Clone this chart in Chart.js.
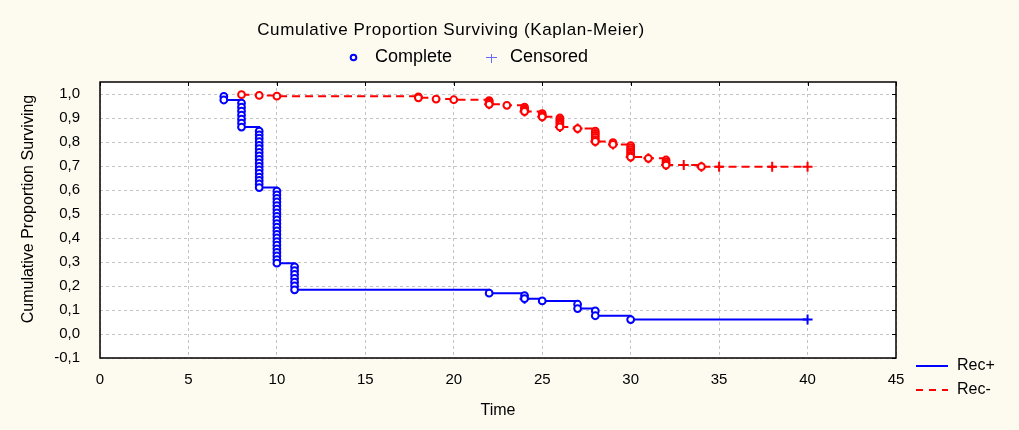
<!DOCTYPE html>
<html>
<head>
<meta charset="utf-8">
<title>Cumulative Proportion Surviving (Kaplan-Meier)</title>
<script src="https://cdn.jsdelivr.net/npm/chart.js@4.4.1/dist/chart.umd.min.js"></script>
<style>
    html, body { margin: 0; padding: 0; background: #fdfaf0; }
    #km { display: block; }
</style>
</head>
<body>
<canvas id="km" width="1019" height="430"></canvas>
<script>
'use strict'

var chartTitle = 'Cumulative Proportion Surviving (Kaplan-Meier)';
var yTitle = 'Cumulative Proportion Surviving';
var xTicks = [0, 5, 10, 15, 20, 25, 30, 35, 40, 45];
var yTicks = [-0.1, 0, 0.1, 0.2, 0.3, 0.4, 0.5, 0.6, 0.7, 0.8, 0.9, 1.0];

/* Rec+ : complete (event) points */
var recPlusTimes = [7, 7,
    8, 8, 8, 8, 8, 8, 8,
    9, 9, 9, 9, 9, 9, 9, 9, 9, 9, 9, 9, 9, 9, 9, 9, 9,
    10, 10, 10, 10, 10, 10, 10, 10, 10, 10, 10, 10, 10, 10, 10, 10, 10, 10, 10, 10, 10,
    11, 11, 11, 11, 11, 11, 11,
    22, 24, 24, 25, 27, 27, 28, 28, 30];
var recPlusSurv = [0.990, 0.975,
    0.962, 0.945, 0.929, 0.912, 0.895, 0.879, 0.862,
    0.845, 0.830, 0.816, 0.801, 0.786, 0.772, 0.757, 0.742, 0.728, 0.713, 0.698, 0.684, 0.669, 0.654, 0.640, 0.625, 0.610,
    0.595, 0.580, 0.565, 0.550, 0.535, 0.520, 0.505, 0.490, 0.475, 0.460, 0.445, 0.430, 0.415, 0.400, 0.385, 0.370, 0.355, 0.340, 0.325, 0.310, 0.295,
    0.280, 0.264, 0.248, 0.232, 0.216, 0.200, 0.184,
    0.170, 0.160, 0.147, 0.138, 0.124, 0.106, 0.096, 0.076, 0.060];
/* Rec+ : censored points */
var recPlusCensTimes = [24, 40];
var recPlusCensSurv = [0.147, 0.060];

/* Rec- : complete (event) points */
var recMinusTimes = [8, 9, 10, 18, 18, 19, 20, 22, 22, 22, 22, 23,
    24, 24, 24, 24, 25, 25, 25, 26, 26, 26, 26, 26, 26, 27,
    28, 28, 28, 28, 28, 28, 29, 29, 30, 30, 30, 30, 30, 30, 30,
    31, 32, 32, 32, 32, 34];
var recMinusSurv = [0.997, 0.994, 0.991, 0.988, 0.984, 0.979, 0.976, 0.972, 0.967, 0.962, 0.957, 0.953,
    0.945, 0.939, 0.933, 0.927, 0.918, 0.911, 0.905, 0.900, 0.893, 0.886, 0.879, 0.871, 0.863, 0.856,
    0.845, 0.836, 0.828, 0.819, 0.810, 0.802, 0.797, 0.790, 0.785, 0.776, 0.768, 0.760, 0.752, 0.744, 0.737,
    0.732, 0.725, 0.717, 0.710, 0.704, 0.697];
/* Rec- : censored points */
var recMinusCensTimes = [22, 24, 25, 26, 27, 28, 29, 30, 31, 32, 33, 34, 35, 38, 40];
var recMinusCensSurv = [0.957, 0.927, 0.905, 0.863, 0.856, 0.802, 0.790, 0.737, 0.732, 0.704, 0.704, 0.697, 0.697, 0.697, 0.697];

var blue = '#0000ff';
var red = '#ff0000';
var fontFamily = "'Liberation Sans', Arial, sans-serif";

function toPoints(t, s) {
    return t.map(function (x, i) { return { x: x, y: s[i] }; });
}
/* step path through every event / censoring point, in time order */
function stepPath(events, censored) {
    return events.concat(censored).sort(function (a, b) {
        return a.x - b.x || b.y - a.y;
    });
}

var recPlusEvents = toPoints(recPlusTimes, recPlusSurv);
var recPlusCens = toPoints(recPlusCensTimes, recPlusCensSurv);
var recMinusEvents = toPoints(recMinusTimes, recMinusSurv);
var recMinusCens = toPoints(recMinusCensTimes, recMinusCensSurv);

function fmt(v) {
    if (Math.abs(v) < 1e-9) v = 0;
    return v.toFixed(1).replace('.', ',');
}

/* cream page, white plot area */
var backdrop = {
    id: 'backdrop',
    beforeDraw: function (chart) {
        var ctx = chart.ctx, a = chart.chartArea;
        ctx.save();
        ctx.fillStyle = '#fdfaf0';
        ctx.fillRect(0, 0, chart.width, chart.height);
        ctx.fillStyle = '#ffffff';
        ctx.fillRect(a.left, a.top, a.right - a.left, a.bottom - a.top);
        ctx.restore();
    }
};

/* frame, inner ticks, titles, marker legend and group legend */
var decorations = {
    id: 'decorations',
    afterDraw: function (chart) {
        var ctx = chart.ctx, a = chart.chartArea;
        var xs = chart.scales.x, ys = chart.scales.y;
        ctx.save();
        ctx.strokeStyle = '#000000';
        ctx.lineWidth = 1.5;
        ctx.strokeRect(a.left, a.top, a.right - a.left, a.bottom - a.top);
        ctx.lineWidth = 1;
        ctx.beginPath();
        xTicks.forEach(function (v) {
            var px = Math.round(xs.getPixelForValue(v)) + 0.5;
            ctx.moveTo(px, a.top);
            ctx.lineTo(px, a.top + 4);
        });
        yTicks.forEach(function (v) {
            var py = Math.round(ys.getPixelForValue(v)) + 0.5;
            ctx.moveTo(a.right, py);
            ctx.lineTo(a.right - 4, py);
        });
        ctx.stroke();

        // title
        ctx.fillStyle = '#000000';
        ctx.textBaseline = 'middle';
        ctx.textAlign = 'center';
        ctx.font = '17px ' + fontFamily;
        ctx.letterSpacing = '0.6px';
        ctx.fillText(chartTitle, 451, 30);
        ctx.letterSpacing = '0px';

        // y axis title
        ctx.save();
        ctx.translate(29, 209);
        ctx.rotate(-Math.PI / 2);
        ctx.font = '16px ' + fontFamily;
        ctx.fillText(yTitle, 0, 0);
        ctx.restore();

        // marker legend
        ctx.textAlign = 'left';
        ctx.font = '18px ' + fontFamily;
        ctx.strokeStyle = blue;
        ctx.lineWidth = 2;
        ctx.beginPath();
        ctx.arc(353.5, 57.5, 2.8, 0, Math.PI * 2);
        ctx.stroke();
        ctx.fillText('Complete', 375, 57);

        ctx.strokeStyle = '#6a6aff';
        ctx.lineWidth = 1;
        ctx.beginPath();
        ctx.moveTo(486, 57.5);
        ctx.lineTo(497, 57.5);
        ctx.moveTo(491.5, 54);
        ctx.lineTo(491.5, 63);
        ctx.stroke();
        ctx.fillText('Censored', 510, 57);

        // group legend
        ctx.font = '16px ' + fontFamily;
        ctx.lineWidth = 2;
        ctx.strokeStyle = blue;
        ctx.beginPath();
        ctx.moveTo(916, 366);
        ctx.lineTo(948, 366);
        ctx.stroke();
        ctx.fillText('Rec+', 957, 366);

        ctx.strokeStyle = red;
        ctx.setLineDash([7, 6]);
        ctx.beginPath();
        ctx.moveTo(916, 390);
        ctx.lineTo(948, 390);
        ctx.stroke();
        ctx.setLineDash([]);
        ctx.fillText('Rec-', 957, 390);
        ctx.restore();
    }
};

var ctx = document.getElementById('km').getContext('2d');
var kmChart = new Chart(ctx, {
    type: 'scatter',
    data: {
        datasets: [{
            label: 'Rec+ complete',
            data: recPlusEvents,
            pointStyle: 'circle',
            radius: 3.4,
            borderWidth: 2,
            borderColor: blue,
            backgroundColor: '#ffffff',
            order: 1
        }, {
            label: 'Rec+ censored',
            data: recPlusCens,
            pointStyle: 'cross',
            radius: 5,
            borderWidth: 2,
            borderColor: blue,
            order: 1
        }, {
            label: 'Rec- complete',
            data: recMinusEvents,
            pointStyle: 'circle',
            radius: 3.4,
            borderWidth: 2,
            borderColor: red,
            backgroundColor: '#ffffff',
            order: 1
        }, {
            label: 'Rec- censored',
            data: recMinusCens,
            pointStyle: 'cross',
            radius: 5,
            borderWidth: 2,
            borderColor: red,
            order: 1
        }, {
            label: 'Rec+',
            data: stepPath(recPlusEvents, recPlusCens),
            showLine: true,
            stepped: true,
            radius: 0,
            borderColor: blue,
            borderWidth: 2,
            order: 2
        }, {
            label: 'Rec-',
            data: stepPath(recMinusEvents, recMinusCens),
            showLine: true,
            stepped: true,
            radius: 0,
            borderColor: red,
            borderWidth: 2,
            borderDash: [8, 5],
            order: 2
        }]
    },
    options: {
        responsive: false,
        animation: false,
        layout: {
            padding: { top: 82, right: 123, left: 0, bottom: 0 }
        },
        plugins: {
            legend: { display: false },
            tooltip: { enabled: false }
        },
        scales: {
            x: {
                type: 'linear',
                min: 0,
                max: 45,
                afterBuildTicks: function (scale) {
                    scale.ticks = xTicks.map(function (v) { return { value: v }; });
                },
                afterFit: function (scale) { scale.height = 72; },
                ticks: {
                    padding: 13,
                    color: '#000000',
                    font: { family: fontFamily, size: 15 },
                    maxRotation: 0
                },
                grid: { color: '#c4c4c4', lineWidth: 1, drawTicks: false },
                border: { display: false, dash: [3, 3] },
                title: {
                    display: true,
                    text: 'Time',
                    color: '#000000',
                    font: { family: fontFamily, size: 16 },
                    padding: { top: 0, bottom: 10 }
                }
            },
            y: {
                type: 'linear',
                min: -0.1,
                max: 1.05,
                afterBuildTicks: function (scale) {
                    scale.ticks = yTicks.map(function (v) { return { value: v }; });
                },
                afterFit: function (scale) { scale.width = 100; },
                ticks: {
                    padding: 20,
                    color: '#000000',
                    font: { family: fontFamily, size: 15 },
                    callback: function (v) { return fmt(v); }
                },
                grid: { color: '#c4c4c4', lineWidth: 1, drawTicks: false },
                border: { display: false, dash: [3, 3] }
            }
        }
    },
    plugins: [backdrop, decorations]
});
</script>
</body>
</html>
